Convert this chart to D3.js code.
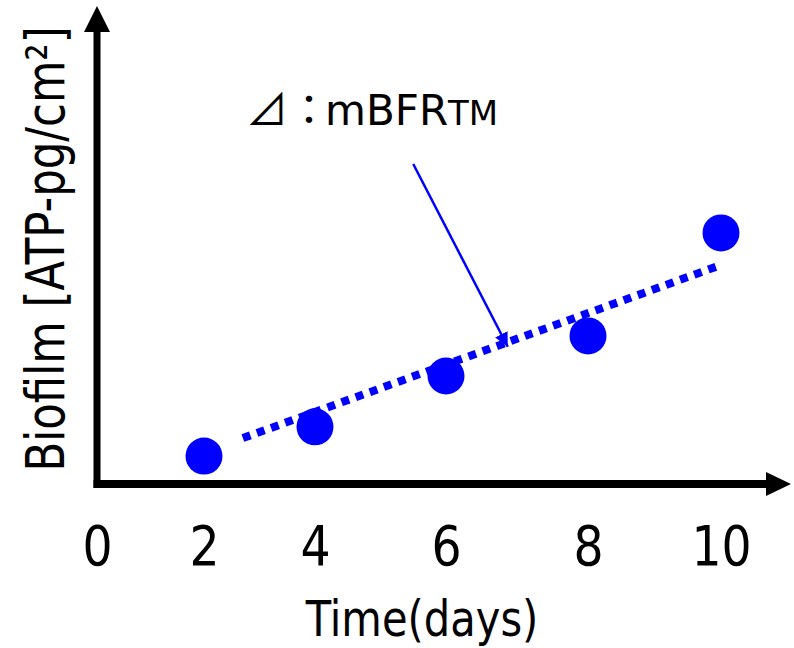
<!DOCTYPE html>
<html><head><meta charset="utf-8">
<script src="https://cdn.jsdelivr.net/npm/d3@7"></script>
<style>body{margin:0;background:#fff} svg{display:block}</style>
</head><body>
<svg id="c" width="794" height="648"></svg>
<script>
// ---- data ----
const days = [2, 4, 6, 8, 10];
const biofilm = [6.2, 12.7, 24.0, 32.9, 55.8];
const trendDays = [2.7, 9.95];
const trendValues = [10.2, 48.4];
const xTickValues = [0, 2, 4, 6, 8, 10];
const xLabel = "Time(days)";
const yLabel = "Biofilm [ATP-pg/cm²]";
const noteMain = "⊿：mBFR";
const noteSup = "TM";
const noteArrowFrom = [5.5, 71.1];
const noteArrowTo = [6.87, 30.5];

// ---- layout ----
const svg = d3.select("#c");
const blue = "#0000ff";
const font = "'DejaVu Sans', Verdana, sans-serif";
const x = d3.scaleLinear().domain(xTickValues).range([97, 204, 315, 446, 588, 721]);
const y = d3.scaleLinear().domain([0, 100]).range([484, 34]);

function squeeze(sel, factor) {
  sel.each(function () {
    const len = this.getComputedTextLength();
    d3.select(this).attr("textLength", len * factor).attr("lengthAdjust", "spacingAndGlyphs");
  });
}

// axes shafts
svg.append("line").attr("x1", x(0)).attr("x2", x(0)).attr("y1", y(0) + 4).attr("y2", 30)
  .attr("stroke", "#000").attr("stroke-width", 7);
svg.append("line").attr("x1", x(0) - 3.5).attr("x2", 768).attr("y1", y(0)).attr("y2", y(0))
  .attr("stroke", "#000").attr("stroke-width", 8);
// arrow heads
svg.append("path").attr("d", `M${x(0)},6 L${x(0) - 13},32 L${x(0) + 13},32 Z`).attr("fill", "#000");
svg.append("path").attr("d", `M791,${y(0)} L766,${y(0) - 12} L766,${y(0) + 12} Z`).attr("fill", "#000");

// x tick labels
const xAxis = d3.axisBottom(x).tickValues(xTickValues).tickSize(0).tickPadding(42).tickFormat(d3.format("d"));
const gx = svg.append("g").attr("transform", `translate(0,${y(0)})`).call(xAxis);
gx.select(".domain").remove();
gx.selectAll("text").attr("font-family", font).attr("font-size", 55).attr("fill", "#000");
squeeze(gx.selectAll("text"), 0.86);

// axis titles
const xt = svg.append("text").attr("x", 422).attr("y", 636).attr("text-anchor", "middle")
  .attr("font-family", font).attr("font-size", 49).attr("fill", "#000").text(xLabel);
squeeze(xt, 0.85);
svg.append("text").attr("transform", "translate(64,249) rotate(-90) scale(0.82,1)").attr("text-anchor", "middle")
  .attr("font-family", font).attr("font-size", 53).attr("fill", "#000").text(yLabel);

// trend line
svg.append("path")
  .datum(trendDays.map((d, i) => [d, trendValues[i]]))
  .attr("d", d3.line().x(d => x(d[0])).y(d => y(d[1])))
  .attr("stroke", blue).attr("stroke-width", 8).attr("stroke-dasharray", "8,7").attr("fill", "none");

// points
svg.selectAll("circle.pt").data(days).enter().append("circle")
  .attr("class", "pt")
  .attr("cx", d => x(d)).attr("cy", (d, i) => y(biofilm[i])).attr("r", 18.5).attr("fill", blue);

// annotation
const note = svg.append("text").attr("x", 246).attr("y", 125).attr("font-family", "'Noto Sans CJK JP', 'DejaVu Sans', sans-serif")
  .attr("font-size", 42).attr("fill", "#000");
note.append("tspan").text(noteMain.slice(0, 2));
note.append("tspan").attr("dx", -5).attr("font-family", font).text(noteMain.slice(2));
note.append("tspan").attr("font-family", font).attr("font-size", 34).text(noteSup);

svg.append("defs").append("marker").attr("id", "ah").attr("markerUnits", "userSpaceOnUse")
  .attr("markerWidth", 16).attr("markerHeight", 16).attr("refX", 14).attr("refY", 7).attr("orient", "auto")
  .append("path").attr("d", "M0,0 L14,7 L0,14 Z").attr("fill", blue);
svg.append("line")
  .attr("x1", x(noteArrowFrom[0])).attr("y1", y(noteArrowFrom[1]))
  .attr("x2", x(noteArrowTo[0])).attr("y2", y(noteArrowTo[1]))
  .attr("stroke", blue).attr("stroke-width", 2.5).attr("marker-end", "url(#ah)");
</script>
</body></html>
